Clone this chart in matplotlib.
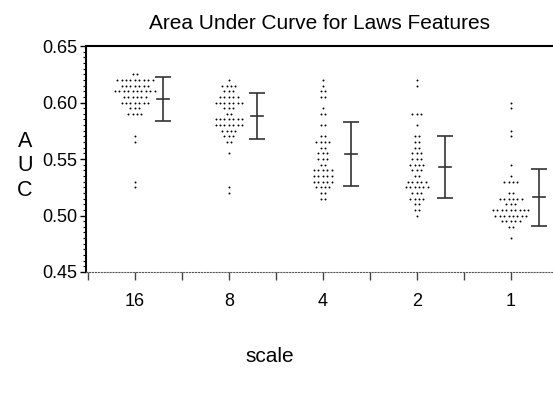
import numpy as np
import matplotlib.pyplot as plt

plt.rcParams['font.family'] = ['Liberation Sans', 'DejaVu Sans']

scales = ['16', '8', '4', '2', '1']

# AUC values (binned rows) and number of feature sets in each row
lv16 = [0.625, 0.620, 0.615, 0.610, 0.605, 0.600, 0.595, 0.590, 0.570, 0.565, 0.530, 0.525]
ct16 = [2, 9, 7, 10, 6, 7, 3, 4, 1, 1, 1, 1]
lv8 = [0.620, 0.615, 0.610, 0.605, 0.600, 0.595, 0.590, 0.585, 0.580, 0.575, 0.570, 0.565, 0.555, 0.525, 0.520]
ct8 = [1, 4, 3, 5, 7, 3, 2, 7, 7, 4, 3, 2, 1, 1, 1]
lv4 = [0.620, 0.615, 0.610, 0.605, 0.595, 0.590, 0.580, 0.570, 0.565, 0.560, 0.555, 0.550, 0.545,
       0.540, 0.535, 0.530, 0.525, 0.520, 0.515]
ct4 = [1, 1, 2, 2, 1, 2, 2, 2, 4, 2, 3, 3, 2, 5, 5, 5, 4, 2, 2]
lv2 = [0.620, 0.615, 0.590, 0.580, 0.570, 0.565, 0.560, 0.555, 0.550, 0.545, 0.540, 0.535, 0.530,
       0.525, 0.520, 0.515, 0.510, 0.505, 0.500]
ct2 = [1, 1, 3, 1, 2, 2, 2, 3, 3, 4, 3, 2, 5, 6, 3, 4, 2, 2, 1]
lv1 = [0.600, 0.595, 0.575, 0.570, 0.545, 0.535, 0.530, 0.520, 0.515, 0.510, 0.505, 0.500, 0.495, 0.490, 0.480]
ct1 = [1, 1, 1, 1, 1, 1, 4, 2, 6, 3, 9, 8, 5, 2, 1]

# mean +/- sd bars
means = [0.6033, 0.5880, 0.5548, 0.5429, 0.5160]
sds = [0.0197, 0.0201, 0.0283, 0.0271, 0.0249]

levels = [lv16, lv8, lv4, lv2, lv1]
counts = [ct16, ct8, ct4, ct2, ct1]

fig = plt.figure(figsize=(5.53, 3.96), dpi=100)
ax = fig.add_axes([86 / 553, 1 - 272 / 396, (553 - 86) / 553, (272 - 46) / 396])

step = 0.047
for i, (lv, ct) in enumerate(zip(levels, counts)):
    xs, ys = [], []
    for v, n in zip(lv, ct):
        off = (np.arange(n) - (n - 1) / 2) * step
        xs.extend(i + off)
        ys.extend([v] * n)
    ax.plot(xs, ys, 'o', color='black', markersize=1.4, markeredgewidth=0)

ax.errorbar(np.arange(5) + 0.3, means, yerr=sds, fmt='none', ecolor='#333333',
            elinewidth=1.2, capsize=6, capthick=1.2)
for i, m in enumerate(means):
    ax.plot([i + 0.3 - 0.065, i + 0.3 + 0.065], [m, m], color='#333333', lw=1.2)

ax.set_xlim(-0.52, 4.45)
ax.set_ylim(0.45, 0.65)
ax.set_xticks(range(5))
ax.set_xticklabels(scales, fontsize=13)
ax.set_xticks(np.arange(-0.5, 4.0, 1.0), minor=True)
ax.set_yticks([0.45, 0.50, 0.55, 0.60, 0.65])
ax.set_yticklabels(['0.45', '0.50', '0.55', '0.60', '0.65'], fontsize=13)
ax.set_yticks(np.arange(0.45, 0.6501, 0.005), minor=True)
ax.tick_params(axis='x', which='both', length=6, width=1, color='#444444', pad=9)
ax.tick_params(axis='y', which='major', length=4, width=1, pad=2)
ax.tick_params(axis='y', which='minor', length=2, width=0.8)

ax.spines['right'].set_visible(False)
ax.spines['top'].set_linewidth(1.5)
ax.spines['left'].set_linewidth(1.5)
ax.spines['bottom'].set_linestyle(':')
ax.spines['bottom'].set_color('#555555')

ax.set_title('Area Under Curve for Laws Features', fontsize=15, pad=12)
fig.text(270 / 553, 1 - 357 / 396, 'scale', ha='center', va='center', fontsize=15)
fig.text(25 / 553, 1 - 166 / 396, 'A\nU\nC', ha='center', va='center', fontsize=15.5, linespacing=1.2)

fig.savefig('out.png', dpi=100)
